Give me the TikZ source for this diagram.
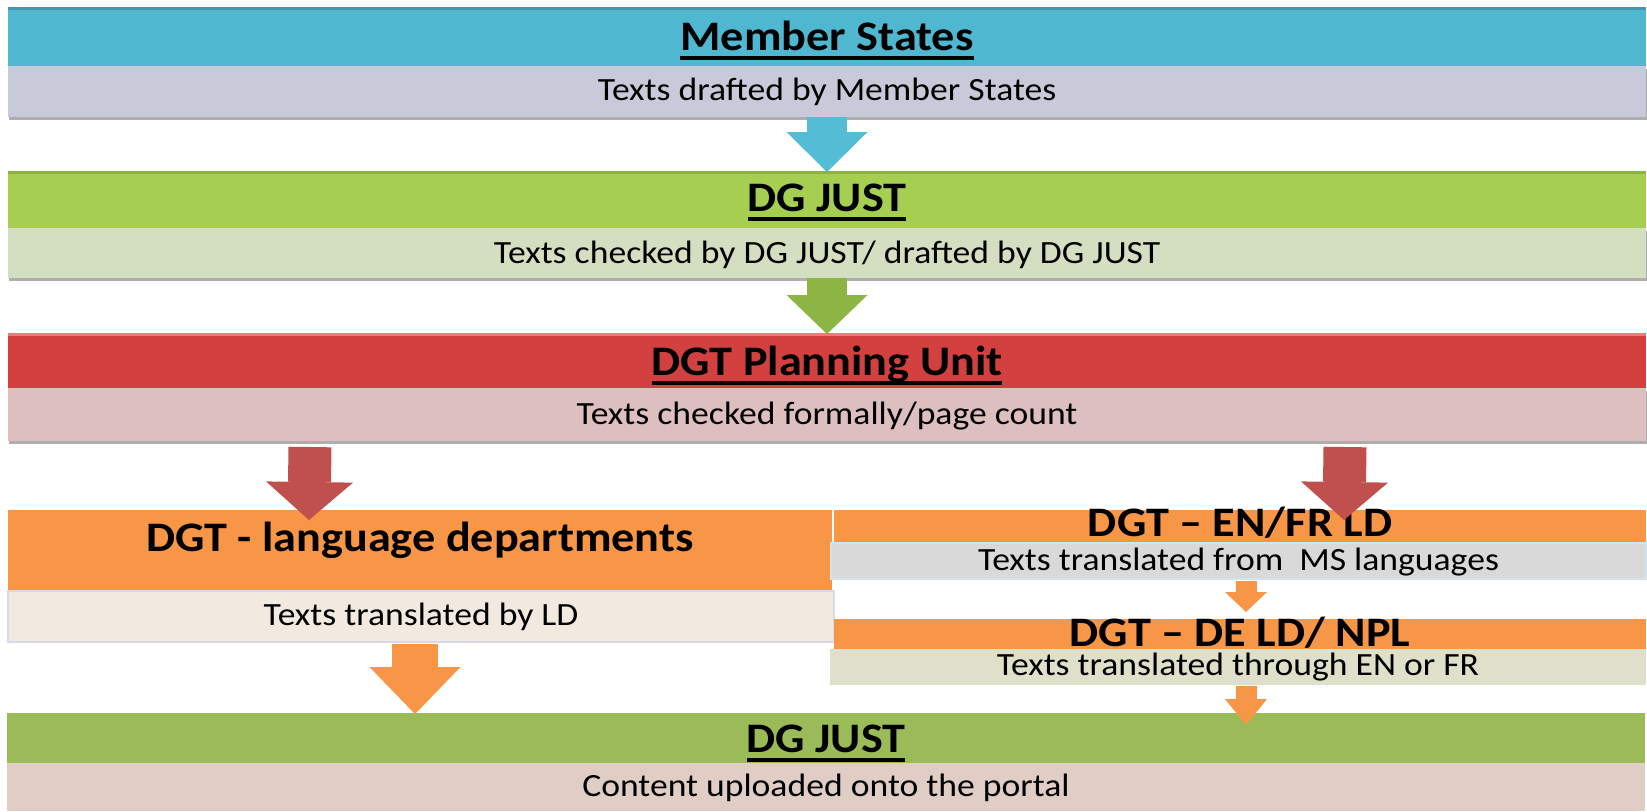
\documentclass[tikz,border=0pt]{standalone}
\usepackage{fontspec}
\setmainfont{Carlito}[FakeStretch=1.1]
\usepackage{tikz}
\usetikzlibrary{arrows.meta, positioning, calc, shadows}

% bar and band colours
\definecolor{msBar}{HTML}{50B7D1}
\definecolor{msBand}{HTML}{C9CAD9}
\definecolor{msTop}{HTML}{4396AE}
\definecolor{justBar}{HTML}{A6CF52}
\definecolor{justBand}{HTML}{D4DFC1}
\definecolor{justTop}{HTML}{8DB443}
\definecolor{puBar}{HTML}{D2403F}
\definecolor{puBand}{HTML}{DDBFC0}
\definecolor{puTop}{HTML}{F07A78}
\definecolor{ldBar}{HTML}{F79646}
\definecolor{ldBand}{HTML}{F2E9E1}
\definecolor{ldLine}{HTML}{D9D7E8}
\definecolor{enfrBand}{HTML}{D9D9D9}
\definecolor{enfrLine}{HTML}{D0E4EC}
\definecolor{deBand}{HTML}{DFE0C9}
\definecolor{outBar}{HTML}{9BBB59}
\definecolor{outBand}{HTML}{E0CEC6}
% arrow colours
\definecolor{blueArr}{HTML}{55BCD6}
\definecolor{greenArr}{HTML}{8CB544}
\definecolor{redArr}{HTML}{C0504D}
\definecolor{orangeArr}{HTML}{F79646}

\newcommand{\headfont}{\fontsize{21}{25}\selectfont\bfseries}
\newcommand{\subfont}{\fontsize{16.2}{19}\selectfont}
\newcommand{\ulhead}[1]{\setbox0=\hbox{#1}\rlap{\vrule height -2.8pt depth 4.8pt width \wd0}\box0}

\tikzset{
  bar/.style={fill=#1, inner sep=0pt, outer sep=0pt, font=\headfont},
  band/.style={fill=#1, inner sep=0pt, outer sep=0pt, font=\subfont},
  tb/.style={text height=#1, text depth=0pt},
  bevel/.style={path picture={
    \fill[#1] (path picture bounding box.north west) rectangle ([yshift=-1.5pt]path picture bounding box.north east);}},
  shade/.style={drop shadow={shadow xshift=0.6pt, shadow yshift=-1.6pt, opacity=0.45, fill=black!70}},
  blockarrow/.style n args={4}{draw=#1, line width=#2, -{Triangle[width=#3, length=#4, line width=0pt]}}
}

\begin{document}
\begin{tikzpicture}[x=0.5pt, y=-0.5pt]
  \useasboundingbox (0,0) rectangle (1647,811);

  % top three stages
  \node[bar=msBar, bevel=msTop, minimum width=819pt, minimum height=29.5pt, tb=13.5pt] (ms) at (827,36.5) {\ulhead{Member States}};
  \node[band=msBand, shade, minimum width=819pt, minimum height=25.5pt, tb=9pt, below=0pt of ms] (msband) {Texts drafted by Member States};
  \node[bar=justBar, bevel=justTop, minimum width=819pt, minimum height=28.5pt, tb=12pt, below=27pt of msband] (just) {\ulhead{DG JUST}};
  \node[band=justBand, shade, minimum width=819pt, minimum height=25pt, tb=10.5pt, below=0pt of just] (justband) {Texts checked by DG JUST/ drafted by DG JUST};
  \node[bar=puBar, bevel=puTop, minimum width=819pt, minimum height=27.5pt, tb=14.5pt, below=27.5pt of justband] (pu) {\ulhead{DGT Planning Unit}};
  \node[band=puBand, shade, minimum width=819pt, minimum height=26.5pt, tb=10pt, below=0pt of pu] (puband) {Texts checked formally/page count};

  % language departments
  \node[bar=ldBar, minimum width=412pt, minimum height=40.5pt, tb=1pt, below=34.5pt of puband.south west, anchor=north west] (ld) {DGT - language departments};
  \node[band=ldBand, draw=ldLine, line width=1pt, minimum width=413pt, minimum height=25.5pt, tb=8.5pt, below=0pt of ld.south west, anchor=north west] (ldband) {Texts translated by LD};

  % relay languages
  \node[bar=ldBar, minimum width=406pt, minimum height=16.5pt, tb=10pt, below=34.5pt of puband.south east, anchor=north east] (enfr) {DGT -- EN/FR LD};
  \node[band=enfrBand, draw=enfrLine, line width=0.8pt, minimum width=407.5pt, minimum height=18pt, tb=9pt, below=0pt of enfr.south east, anchor=north east] (enfrband) {Texts translated from~ MS languages};
  \node[bar=ldBar, minimum width=406pt, minimum height=15pt, tb=12.5pt, below=20pt of enfrband.south east, anchor=north east] (de) {DGT -- DE LD/ NPL};
  \node[band=deBand, minimum width=408pt, minimum height=18pt, tb=8.5pt, below=0pt of de.south east, anchor=north east] (deband) {Texts translated through EN or FR};

  % output
  \node[bar=outBar, minimum width=819pt, minimum height=25pt, tb=14pt, below=35.5pt of ldband.south west, anchor=north west, xshift=-0.5pt] (out) {\ulhead{DG JUST}};
  \node[band=outBand, minimum width=819pt, minimum height=24pt, tb=9.5pt, below=0pt of out] (outband) {Content uploaded onto the portal};

  % block arrows
  \draw[blockarrow={blueArr}{20pt}{40.5pt}{20pt}] (msband.south) -- ([yshift=-0.5pt]just.north);
  \draw[blockarrow={greenArr}{20pt}{40.5pt}{19.5pt}] (justband.south) -- ([yshift=-0.5pt]pu.north);
  \draw[blockarrow={redArr}{21.5pt}{43.5pt}{19pt}] ($(puband.south west)+(302,6)$) -- ($(ld.north west)+(301,10)$);
  \draw[blockarrow={redArr}{21.5pt}{43.5pt}{19pt}] ($(puband.south east)+(-301,6)$) -- ($(enfr.north east)+(-302,10)$);
  \draw[blockarrow={orangeArr}{23pt}{45.5pt}{23.5pt}] ($(ldband.south west)+(407,2)$) -- ($(out.north west)+(408,1)$);
  \draw[blockarrow={orangeArr}{10.5pt}{21pt}{10pt}] ($(enfrband.south east)+(-400,2)$) -- ($(de.north east)+(-400,-7)$);
  \draw[blockarrow={orangeArr}{10.5pt}{21pt}{13pt}] ($(deband.south east)+(-400,1)$) -- ($(out.north east)+(-399,12)$);
\end{tikzpicture}
\end{document}
